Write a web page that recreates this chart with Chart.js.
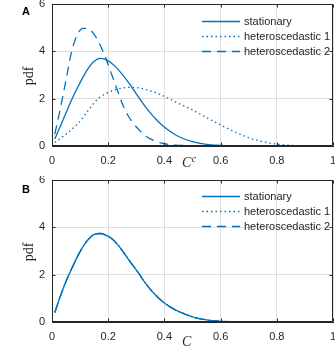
<!DOCTYPE html>
<html>
<head>
<meta charset="utf-8">
<script src="https://cdn.jsdelivr.net/npm/chart.js"></script>
<style>
  body { margin: 0; background: #fff; }
  .panel { position: absolute; left: 0; width: 335px; }
  #panel-a { top: 0; height: 176px; }
  #panel-b { top: 176px; height: 171px; }
</style>
</head>
<body>
<div class="panel" id="panel-a"><canvas id="chart-a"></canvas></div>
<div class="panel" id="panel-b"><canvas id="chart-b"></canvas></div>
<script>
const cValues = [0.01, 0.03, 0.05, 0.07, 0.09, 0.11, 0.13, 0.15, 0.17, 0.19,
  0.21, 0.23, 0.25, 0.27, 0.29, 0.31, 0.33, 0.35, 0.37, 0.39,
  0.42, 0.45, 0.5, 0.55, 0.6, 0.65, 0.7, 0.75, 0.8, 0.85, 0.9, 0.95, 1.0];

const seriesLabels = ['stationary', 'heteroscedastic 1', 'heteroscedastic 2'];

// panel A
const stationaryA = [0.3, 0.85, 1.4, 1.95, 2.45, 2.9, 3.3, 3.58, 3.7, 3.66,
  3.52, 3.3, 3.03, 2.72, 2.38, 2.03, 1.7, 1.4, 1.13, 0.9,
  0.62, 0.4, 0.18, 0.07, 0.03, 0.01, 0, 0, 0, 0, 0, 0, 0];
const hetero1A = [0.15, 0.32, 0.5, 0.7, 0.92, 1.2, 1.52, 1.82, 2.06, 2.2,
  2.31, 2.4, 2.45, 2.48, 2.48, 2.45, 2.4, 2.33, 2.25, 2.15,
  1.98, 1.8, 1.52, 1.2, 0.89, 0.6, 0.35, 0.18, 0.08, 0.03, 0.01, 0, 0];
const hetero2A = [0.5, 1.6, 2.8, 4.0, 4.7, 4.97, 4.95, 4.72, 4.3, 3.75,
  3.1, 2.45, 1.8, 1.3, 0.95, 0.68, 0.45, 0.3, 0.2, 0.12,
  0.06, 0.03, 0.01, 0, 0, 0, 0, 0, 0, 0, 0, 0, 0];

// panel B - the three curves lie on top of each other
const stationaryB = [0.4, 1.1, 1.72, 2.25, 2.75, 3.18, 3.5, 3.7, 3.74, 3.68,
  3.55, 3.32, 3.02, 2.68, 2.36, 2.03, 1.68, 1.38, 1.12, 0.9,
  0.64, 0.45, 0.22, 0.09, 0.03, 0.01, 0, 0, 0, 0, 0, 0, 0];
const hetero1B = stationaryB.slice();
const hetero2B = stationaryB.slice();

const blue = '#0072BD';
const ink = '#262626';
const dashes = [[], [1.5, 3], [9, 6]];

function toPoints(ys) {
  return cValues.map((c, i) => ({ x: c, y: ys[i] }));
}

// frame, inward ticks, legend and the axis texts
const panelDecor = {
  id: 'panelDecor',
  afterDraw(chart, args, opts) {
    const ctx = chart.ctx;
    const a = chart.chartArea;
    const xs = chart.scales.x, ys = chart.scales.y;
    const L = Math.round(a.left) + 0.5, R = Math.round(a.right) - 0.5;
    const T = Math.round(a.top) + 0.5, B = Math.round(a.bottom) - 0.5;
    ctx.save();
    ctx.strokeStyle = ink;
    ctx.lineWidth = 1;
    ctx.setLineDash([]);
    ctx.strokeRect(L, T, R - L, B - T);
    ctx.beginPath();
    xs.ticks.forEach(t => {
      const px = Math.round(xs.getPixelForValue(t.value)) + 0.5;
      ctx.moveTo(px, B); ctx.lineTo(px, B - 3);
      ctx.moveTo(px, T); ctx.lineTo(px, T + 3);
    });
    ys.ticks.forEach(t => {
      const py = Math.round(ys.getPixelForValue(t.value)) + 0.5;
      ctx.moveTo(L, py); ctx.lineTo(L + 3, py);
      ctx.moveTo(R, py); ctx.lineTo(R - 3, py);
    });
    ctx.stroke();

    // legend, no box
    ctx.font = '11px "Liberation Sans", Arial, sans-serif';
    ctx.textBaseline = 'middle';
    ctx.textAlign = 'left';
    chart.data.datasets.forEach((ds, i) => {
      const y = a.top + opts.legendTop + i * 15;
      ctx.strokeStyle = ds.borderColor;
      ctx.lineWidth = ds.borderWidth;
      ctx.setLineDash(ds.borderDash);
      ctx.beginPath();
      ctx.moveTo(202, y); ctx.lineTo(240, y);
      ctx.stroke();
      ctx.fillStyle = ink;
      ctx.fillText(ds.label, 244, y);
    });
    ctx.setLineDash([]);

    // panel letter
    ctx.font = 'bold 11px "Liberation Sans", Arial, sans-serif';
    ctx.textAlign = 'center';
    ctx.fillStyle = '#000';
    ctx.fillText(opts.letter, 26, opts.letterY);

    // y label
    ctx.fillStyle = ink;
    ctx.font = '14px "Liberation Serif", "DejaVu Serif", serif';
    ctx.save();
    ctx.translate(29, a.top + 72);
    ctx.rotate(-Math.PI / 2);
    ctx.fillText('pdf', 0, 0);
    ctx.restore();

    // x label, italic C with optional superscript
    ctx.textAlign = 'left';
    ctx.textBaseline = 'alphabetic';
    ctx.font = 'italic 14px "Liberation Serif", "DejaVu Serif", serif';
    ctx.fillText('C', opts.xLabelX, opts.xLabelY);
    if (opts.sup) {
      const w = ctx.measureText('C').width;
      ctx.font = 'italic 10px "Liberation Serif", "DejaVu Serif", serif';
      ctx.fillText(opts.sup, opts.xLabelX + w + 0.5, opts.xLabelY - 5);
    }
    ctx.restore();
  }
};

function makePanel(canvasId, series, decor, xAxisHeight) {
  return new Chart(document.getElementById(canvasId).getContext('2d'), {
    type: 'line',
    data: {
      datasets: series.map((ys, i) => ({
        label: seriesLabels[i],
        data: toPoints(ys),
        borderColor: blue,
        borderWidth: 1.3,
        borderDash: dashes[i],
        pointRadius: 0,
        fill: false,
        cubicInterpolationMode: 'monotone'
      }))
    },
    options: {
      responsive: true,
      maintainAspectRatio: false,
      animation: false,
      layout: { padding: { left: 0, right: 2, top: 4, bottom: 0 } },
      plugins: {
        legend: { display: false },
        tooltip: { enabled: false },
        panelDecor: decor
      },
      scales: {
        x: {
          type: 'linear',
          min: 0,
          max: 1,
          ticks: {
            stepSize: 0.2,
            padding: 8,
            color: ink,
            font: { family: '"Liberation Sans", Arial, sans-serif', size: 11 },
            maxRotation: 0,
            callback: v => String(Math.round(v * 10) / 10)
          },
          grid: { color: '#dfdfdf', drawTicks: false },
          border: { color: ink },
          afterFit: scale => {
            scale.height = xAxisHeight;
            scale.paddingLeft = 0;
            scale.paddingRight = 0;
          }
        },
        y: {
          min: 0,
          max: 6,
          ticks: {
            stepSize: 2,
            padding: 7,
            color: ink,
            font: { family: '"Liberation Sans", Arial, sans-serif', size: 11 }
          },
          grid: { color: '#dfdfdf', drawTicks: false },
          border: { color: ink },
          afterFit: scale => {
            scale.width = 52;
            scale.paddingTop = 0;
            scale.paddingBottom = 0;
          }
        }
      }
    },
    plugins: [panelDecor]
  });
}

makePanel('chart-a', [stationaryA, hetero1A, hetero2A],
  { letter: 'A', letterY: 12, legendTop: 17.5, xLabelX: 182, xLabelY: 167, sup: 'c' }, 30);
makePanel('chart-b', [stationaryB, hetero1B, hetero2B],
  { letter: 'B', letterY: 13.5, legendTop: 16.5, xLabelX: 182, xLabelY: 170, sup: '' }, 25);
</script>
</body>
</html>
